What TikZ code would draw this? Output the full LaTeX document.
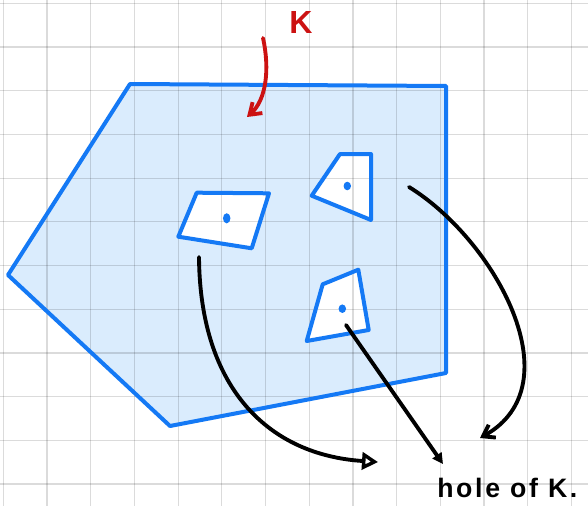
\documentclass[tikz,border=0pt]{standalone}
\usepackage{fontspec}
\usetikzlibrary{arrows.meta}
\newfontfamily\handfont{Liberation Sans Bold}[LetterSpace=10]
\definecolor{kfill}{HTML}{DAECFD}
\definecolor{kblue}{HTML}{1479F5}
\definecolor{kred}{HTML}{CC1212}
\begin{document}
\begin{tikzpicture}[x=0.75pt,y=-0.75pt,
  gridline/.style={black,opacity=0.14,line width=0.9pt},
  edgeline/.style={kblue,line width=3pt,line join=round},
  holefill/.style={white},
  blackarrow/.style={black,line width=2.9pt,line cap=round,line join=round},
  redarrow/.style={kred,line width=2.9pt,line cap=round,line join=round},
  dotmark/.style={kblue}]
\useasboundingbox (0,0) rectangle (588,506);
\fill[white] (0,0) rectangle (588,506);
% body of K
\fill[kfill] (130,84) -- (446,86) -- (446,373) -- (170,426) -- (8,275) -- cycle;
% holes
\fill[holefill] (196.7,192.7) -- (269,193.3) -- (251.7,248.3) -- (178.3,236.7) -- cycle;
\fill[holefill] (340,154) -- (371,154) -- (371,220) -- (311.7,195.7) -- cycle;
\fill[holefill] (322.7,284.3) -- (358.3,269.7) -- (368.7,330) -- (306.7,341) -- cycle;
% grid
\foreach \k in {0,...,13} {
  \draw[gridline] ({3.3+43.7*\k},0) -- ({3.3+43.7*\k},506);
}
\foreach \k in {0,...,11} {
  \draw[gridline] (0,{3.3+43.7*\k}) -- (588,{3.3+43.7*\k});
}
% outlines
\draw[edgeline] (130,84) -- (446,86) -- (446,373) -- (170,426) -- (8,275) -- cycle;
\draw[edgeline] (196.7,192.7) -- (269,193.3) -- (251.7,248.3) -- (178.3,236.7) -- cycle;
\draw[edgeline] (340,154) -- (371,154) -- (371,220) -- (311.7,195.7) -- cycle;
\draw[edgeline] (322.7,284.3) -- (358.3,269.7) -- (368.7,330) -- (306.7,341) -- cycle;
% dots
\fill[dotmark] (226.7,218.3) ellipse [x radius=2.8pt, y radius=3.8pt];
\fill[dotmark] (347.3,186) ellipse [x radius=2.8pt, y radius=3.2pt];
\fill[dotmark] (342.3,308.7) ellipse [x radius=2.8pt, y radius=3.2pt];
% labels
\node[kred, anchor=base west, inner sep=0pt, font=\fontsize{24}{24}\selectfont\handfont] (klabel) at (289,34) {K};
\node[black, anchor=base west, inner sep=0pt, font=\fontsize{20}{20}\selectfont\handfont] (holelabel) at (437,497) {hole of K.};
% connector coordinates
\coordinate (redstart) at (263,38);
\coordinate (redend) at (247,117);
\coordinate (astart) at (199,257);
\coordinate (aend) at (378,462);
\coordinate (bstart) at (409,187);
\coordinate (bend) at (480,438);
\coordinate (cstart) at (346,325);
\coordinate (cend) at (443,464);
% arrows
\draw[redarrow,-{Straight Barb[length=8pt,width=11pt]}] (redstart) .. controls (270,70) and (266,100) .. (redend);
\draw[blackarrow,-{Triangle[open,length=12pt,width=13pt,line width=2.6pt]}] (astart) .. controls (200,390) and (270,455) .. (aend);
\draw[blackarrow,-{Straight Barb[length=8pt,width=11pt]}] (bstart) .. controls (495,240) and (575,385) .. (bend);
\draw[blackarrow,-{Triangle[length=8pt,width=8pt]}] (cstart) -- (cend);
\end{tikzpicture}
\end{document}
